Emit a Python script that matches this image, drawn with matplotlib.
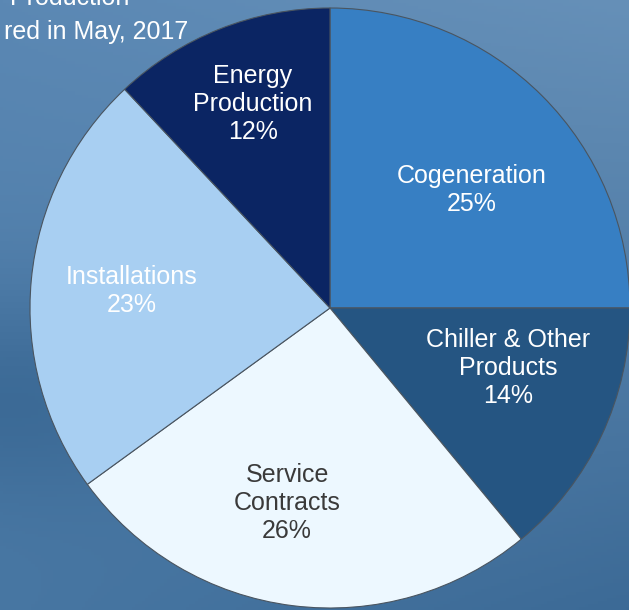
import numpy as np
import matplotlib
matplotlib.use("Agg")
import matplotlib.pyplot as plt

# ─── Data ─────────────────────────────────────────────────────────────────────
SEGMENTS = ["Cogeneration", "Chiller & Other\nProducts", "Service\nContracts",
            "Installations", "Energy\nProduction"]
SHARES   = [25, 14, 26, 23, 12]
COLORS   = ["#377fc3", "#255582", "#edf8ff", "#a8cff2", "#0b2563"]
TXT_COL  = ["white", "white", "#3a3a3a", "white", "white"]

# label placement (radial distance, angle nudge in degrees) - layout only
LBL_DIST  = [0.615, 0.626, 0.666, 0.665, 0.727]
LBL_NUDGE = [-5.3, 6.6, -5.2, 0.4, -0.9]

plt.rcParams["font.family"] = ["Liberation Sans", "DejaVu Sans"]

W, H, DPI = 629, 610, 100
R  = 300.0             # pie radius in px
CX, CY = 330.0, 308.0  # pie centre, px from top-left

fig = plt.figure(figsize=(W / DPI, H / DPI), dpi=DPI)
ax = fig.add_axes([0, 0, 1, 1])

# axis limits in pie units (radius = 1)
x0, x1 = -CX / R, (W - CX) / R
y0, y1 = -(H - CY) / R, CY / R

# ─── Background: soft blue photo-like gradient ───────────────────────────────
yy, xx = np.mgrid[0:1:200j, 0:1:200j]
tl, tr = np.array([0x5b, 0x88, 0xb4]), np.array([0x66, 0x90, 0xb8])
bl, br = np.array([0x48, 0x77, 0xa3]), np.array([0x3c, 0x6a, 0x96])
top = tl[None, None] * (1 - xx[..., None]) + tr[None, None] * xx[..., None]
bot = bl[None, None] * (1 - xx[..., None]) + br[None, None] * xx[..., None]
img = top * (1 - yy[..., None]) + bot * yy[..., None]
# darker band on the left-middle
band = np.exp(-((yy - 0.65) / 0.18) ** 2) * np.exp(-(xx / 0.35) ** 2)
img = img - 18 * band[..., None]
ax.imshow(np.clip(img, 0, 255).astype(np.uint8), extent=[x0, x1, y0, y1],
          aspect="auto", zorder=0)

# ─── Pie ─────────────────────────────────────────────────────────────────────
wedges, _ = ax.pie(SHARES, colors=COLORS, startangle=90, counterclock=False,
                   radius=1.0, center=(0, 0),
                   wedgeprops=dict(edgecolor="#4a5560", linewidth=0.8))
for w in wedges:
    w.set_zorder(2)

for i, w in enumerate(wedges):
    mid = np.deg2rad((w.theta1 + w.theta2) / 2 + LBL_NUDGE[i])
    d = LBL_DIST[i]
    ax.text(d * np.cos(mid), d * np.sin(mid), f"{SEGMENTS[i]}\n{SHARES[i]}%",
            ha="center", va="center", fontsize=18, color=TXT_COL[i],
            linespacing=1.2, zorder=3)

# ─── Cropped header text (top-left) ──────────────────────────────────────────
ax.text((70 - CX) / R, (CY - 5) / R, "Production", ha="center",
        va="baseline", fontsize=18, color="white", zorder=3)
ax.text((188 - CX) / R, (CY - 39) / R, "red in May, 2017", ha="right",
        va="baseline", fontsize=18, color="white", zorder=3)

ax.set_xlim(x0, x1)
ax.set_ylim(y0, y1)
ax.set_aspect("auto")
ax.axis("off")

fig.savefig("out.png", dpi=DPI)
